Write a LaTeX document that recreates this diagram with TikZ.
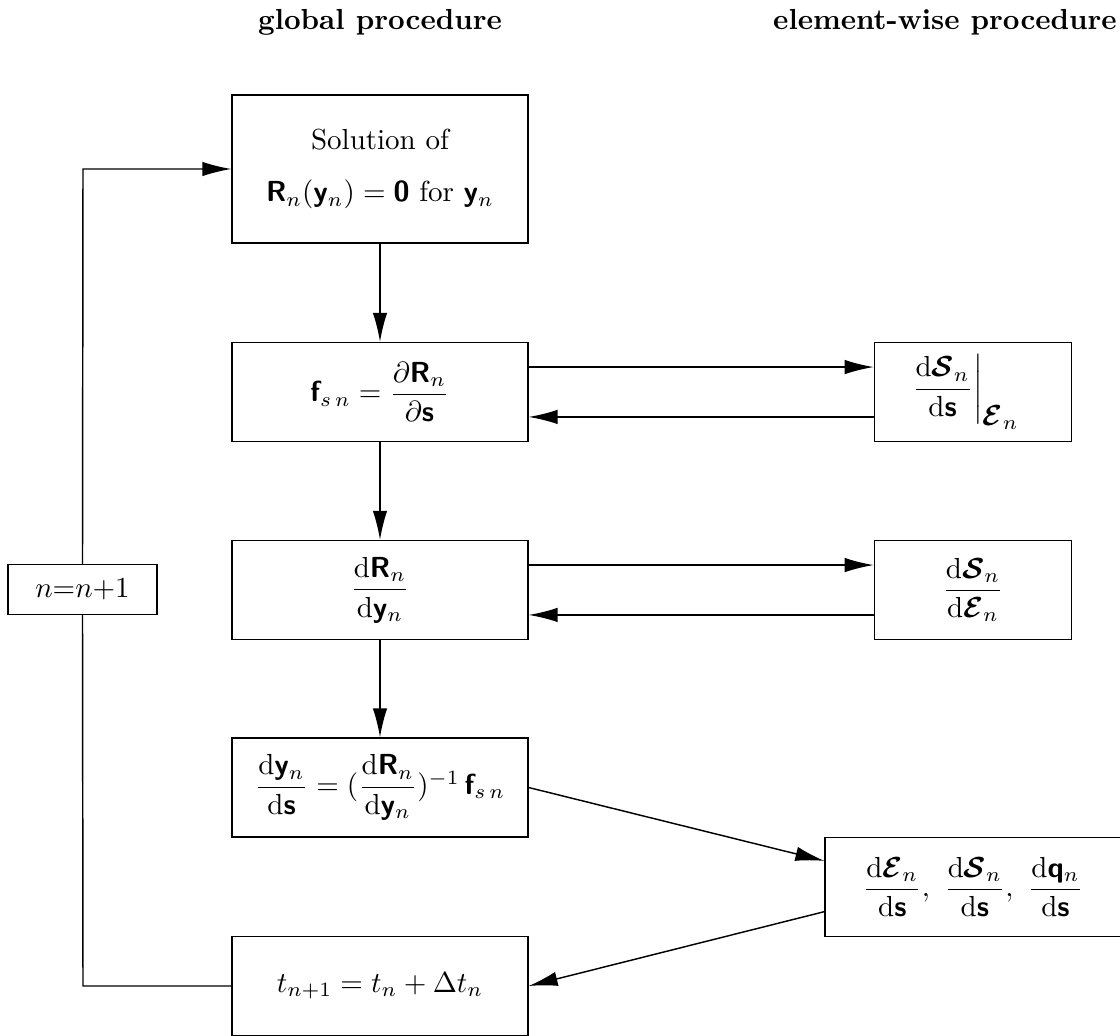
\documentclass[tikz,border=0pt]{standalone}
\usepackage{amsmath,bm}
\usetikzlibrary{arrows.meta}
\DeclareMathAlphabet{\mathbsf}{OT1}{cmss}{bx}{n}
\newcommand{\vb}[1]{\mathbsf{#1}}
\newcommand{\dd}{\mathrm{d}}
\begin{document}
\begin{tikzpicture}[x=0.3448pt,y=-0.3448pt,
  box/.style={draw,line width=0.5pt,inner sep=0pt,minimum width=102pt,minimum height=34.1pt,align=center},
  sbox/.style={box,minimum width=68pt},
  arr/.style={line width=0.5pt,-{Latex[length=10pt,width=5pt]}},
  ln/.style={line width=0.5pt},
  head/.style={anchor=base,font=\bfseries}]
\useasboundingbox (0,0) rectangle (1120,1036);
\clip (0,0) rectangle (1120,1036);
\node[head] (h1) at (380,30) {global procedure};
\node[head] (h2) at (945,30) {element-wise procedure};
\node[box,minimum height=51pt] (b1) at (380,169) {Solution of\\[6pt] $\vb{R}_n(\vb{y}_n)=\vb{0}$ for $\vb{y}_n$};
\node[box] (b2) at (380,392) {$\vb{f}_{s\,n}=\dfrac{\partial\vb{R}_n}{\partial\vb{s}}$};
\node[box] (b3) at (380,590) {$\dfrac{\dd\vb{R}_n}{\dd\vb{y}_n}$};
\node[box] (b4) at (380,787.5) {$\dfrac{\dd\vb{y}_n}{\dd\vb{s}}=(\dfrac{\dd\vb{R}_n}{\dd\vb{y}_n})^{-1}\,\vb{f}_{s\,n}$};
\node[box] (b5) at (380,986) {$t_{n+1}=t_n+\Delta t_n$};
\node[sbox] (r1) at (973,392) {$\left.\dfrac{\dd\bm{\mathcal{S}}_n}{\dd\vb{s}}\right|_{\textstyle\bm{\mathcal{E}}_n}$\hspace*{6pt}};
\node[sbox] (r2) at (973,590) {$\dfrac{\dd\bm{\mathcal{S}}_n}{\dd\bm{\mathcal{E}}_n}$};
\node[box] (r3) at (973,887) {$\dfrac{\dd\bm{\mathcal{E}}_n}{\dd\vb{s}},\ \dfrac{\dd\bm{\mathcal{S}}_n}{\dd\vb{s}},\ \dfrac{\dd\vb{q}_n}{\dd\vb{s}}$};
\node[box,minimum width=51.4pt,minimum height=17.1pt] (inc) at (82.5,589.5) {$n{=}n{+}1$};
\coordinate (c1) at (83,986);
\coordinate (c2) at (83,169);
\draw[arr] (b1) -- (b2);
\draw[arr] (b2) -- (b3);
\draw[arr] (b3) -- (b4);
\draw[arr] ([yshift=8.6pt]b2.east) -- ([yshift=8.6pt]r1.west);
\draw[arr] ([yshift=-8.6pt]r1.west) -- ([yshift=-8.6pt]b2.east);
\draw[arr] ([yshift=8.6pt]b3.east) -- ([yshift=8.6pt]r2.west);
\draw[arr] ([yshift=-8.6pt]r2.west) -- ([yshift=-8.6pt]b3.east);
\draw[arr] (b4.east) -- ([yshift=9pt]r3.west);
\draw[arr] ([yshift=-8.5pt]r3.west) -- (b5.east);
\draw[ln] (b5.west) -- (c1) -- (inc.south);
\draw[arr] (inc.north) -- (c2) -- (b1.west);
\end{tikzpicture}
\end{document}
